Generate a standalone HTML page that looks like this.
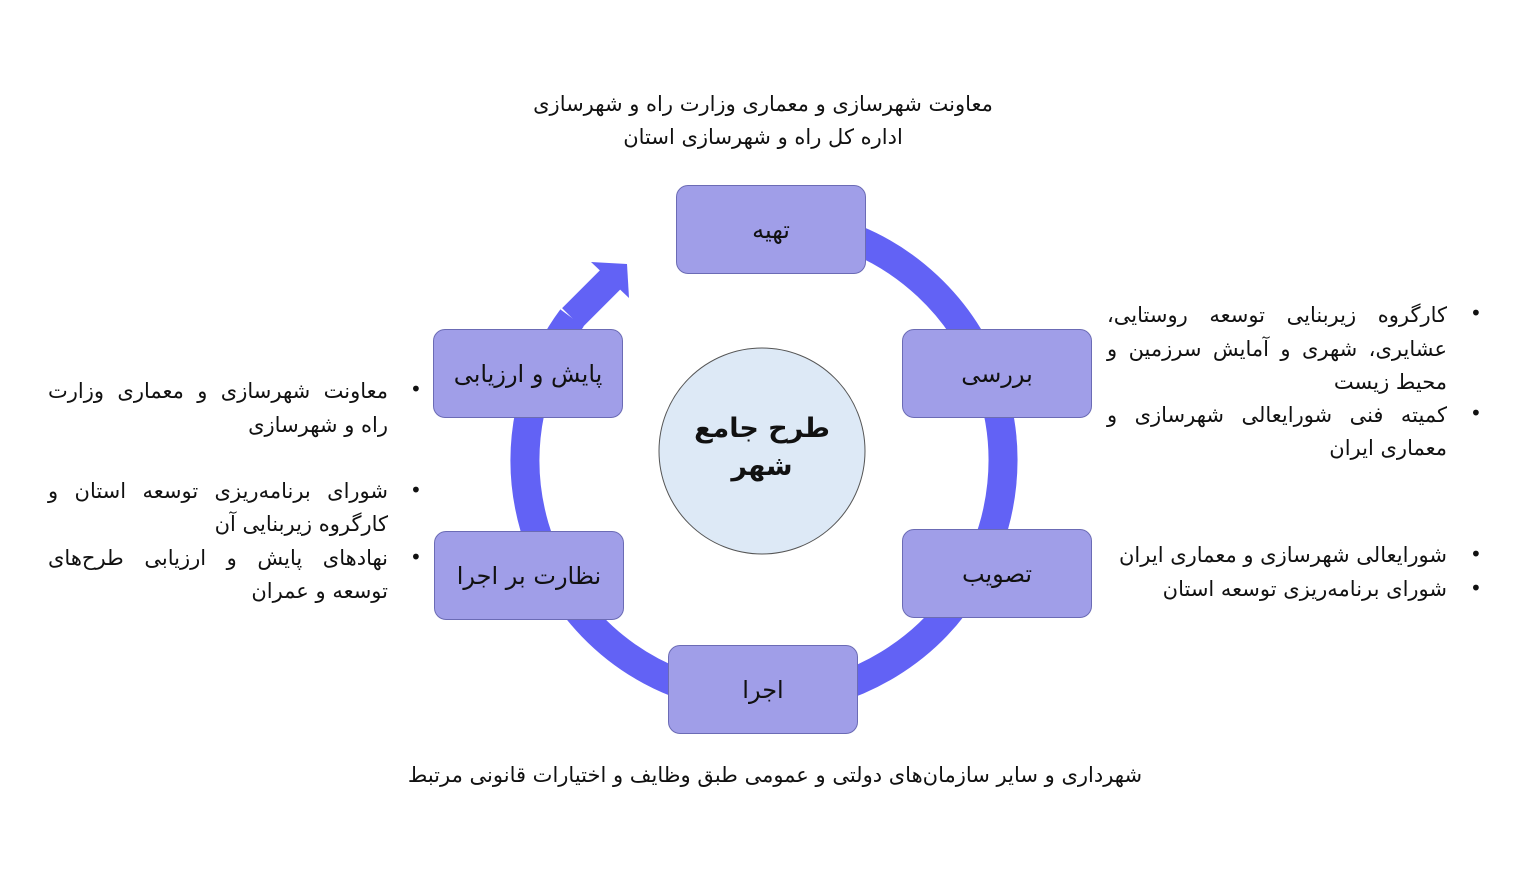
<!DOCTYPE html>
<html><head><meta charset="utf-8"><style>
body{margin:0;width:1536px;height:882px;background:#fff;position:relative;overflow:hidden;font-family:"DejaVu Sans","Noto Sans CJK SC",sans-serif;color:#111}
.t{position:absolute;white-space:nowrap;font-size:21px;line-height:26px}
.c{text-align:center;direction:rtl}
.box{position:absolute;width:190px;height:89px;background:#a09ee8;border:1px solid #6b6bb5;border-radius:12px;box-sizing:border-box;display:flex;align-items:center;justify-content:center;font-size:24px;direction:rtl}
.l{position:absolute;width:340px;direction:rtl;font-size:21px;line-height:26px;height:26px;white-space:nowrap}
.j{text-align:justify;text-align-last:justify}
.r{text-align:right}
.b{position:absolute;font-size:20px;line-height:26px}
</style></head><body>
<svg width="1536" height="882" style="position:absolute;left:0;top:0">
<path d="M 724.5 224.6 A 239 239 0 1 1 572 318" fill="none" stroke="#6262f5" stroke-width="29"/>
<line x1="572" y1="318" x2="612" y2="278" stroke="#6262f5" stroke-width="28"/>
<polygon points="591,262 627,264 629,298" fill="#6262f5"/>
<circle cx="762" cy="451" r="103" fill="#dde9f6" stroke="#555" stroke-width="1"/>
</svg>
<div class="box" style="left:676px;top:185px">تهیه</div>
<div class="box" style="left:902px;top:329px">بررسی</div>
<div class="box" style="left:902px;top:529px">تصویب</div>
<div class="box" style="left:668px;top:645px">اجرا</div>
<div class="box" style="left:434px;top:531px">نظارت بر اجرا</div>
<div class="box" style="left:433px;top:329px">پایش و ارزیابی</div>
<div class="t c" style="left:662px;top:410px;width:200px;font-size:27px;line-height:38px;font-weight:bold">طرح جامع<br>شهر</div>
<div class="t c" style="left:463px;top:91px;width:600px">معاونت شهرسازی و معماری وزارت راه و شهرسازی</div>
<div class="t c" style="left:463px;top:124px;width:600px">اداره کل راه و شهرسازی استان</div>
<div class="t c" style="left:375px;top:762px;width:800px">شهرداری و سایر سازمان‌های دولتی و عمومی طبق وظایف و اختیارات قانونی مرتبط</div>

<div class="b" style="left:1470px;top:300px">•</div>
<div class="l j" style="left:1107px;top:302px">کارگروه زیربنایی توسعه روستایی،</div>
<div class="l j" style="left:1107px;top:336px">عشایری، شهری و آمایش سرزمین و</div>
<div class="l r" style="left:1107px;top:369px">محیط زیست</div>
<div class="b" style="left:1470px;top:400px">•</div>
<div class="l j" style="left:1107px;top:402px">کمیته فنی شورایعالی شهرسازی و</div>
<div class="l r" style="left:1107px;top:435px">معماری ایران</div>
<div class="b" style="left:1470px;top:541px">•</div>
<div class="l r" style="left:1107px;top:542px">شورایعالی شهرسازی و معماری ایران</div>
<div class="b" style="left:1470px;top:575px">•</div>
<div class="l r" style="left:1107px;top:576px">شورای برنامه‌ریزی توسعه استان</div>

<div class="b" style="left:410px;top:376px">•</div>
<div class="l j" style="left:48px;top:378px">معاونت شهرسازی و معماری وزارت</div>
<div class="l r" style="left:48px;top:412px">راه و شهرسازی</div>
<div class="b" style="left:410px;top:477px">•</div>
<div class="l j" style="left:48px;top:478px">شورای برنامه‌ریزی توسعه استان و</div>
<div class="l r" style="left:48px;top:511px">کارگروه زیربنایی آن</div>
<div class="b" style="left:410px;top:544px">•</div>
<div class="l j" style="left:48px;top:545px">نهادهای پایش و ارزیابی طرح‌های</div>
<div class="l r" style="left:48px;top:578px">توسعه و عمران</div>
</body></html>
